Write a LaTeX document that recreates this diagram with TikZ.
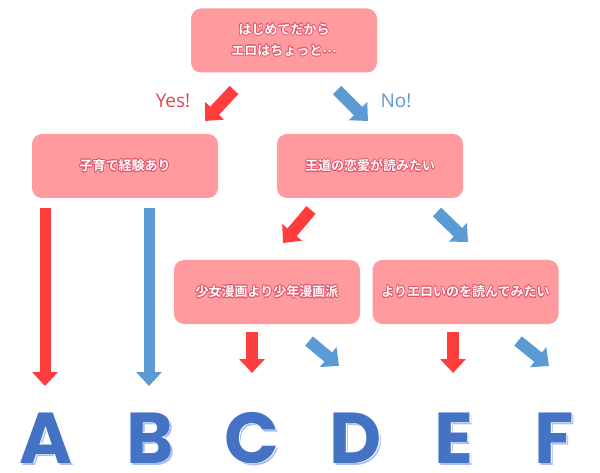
\documentclass[tikz,border=0pt]{standalone}
\usepackage{fontspec}
\usepackage{contour}
\usetikzlibrary{arrows.meta}
\newfontfamily\jpfont{Noto Sans CJK JP}[BoldFont={* Bold}]
\newfontfamily\labfont{Open Sans}
\newfontfamily\letterfont{Poppins}
\definecolor{boxfill}{HTML}{FF9B9E}
\definecolor{olc}{HTML}{E2546A}
\definecolor{redarr}{HTML}{FF3D3D}
\definecolor{bluearr}{HTML}{5B9BD5}
\definecolor{letterblue}{HTML}{4472C4}
\definecolor{lettershadow}{HTML}{A8C1EC}
\definecolor{yescol}{HTML}{E8434F}
\definecolor{nocol}{HTML}{5B9BD5}
\newcommand\jt[1]{\contour{olc}{#1}}
\tikzset{
  qbox/.style={rectangle, rounded corners=10pt, fill=boxfill, draw=none,
    minimum width=186pt, minimum height=64pt, inner sep=0pt,
    font=\jpfont\bfseries\fontsize{13}{21}\selectfont, text=white, align=center},
  redarrow/.style={draw=redarr, line width=12pt, -{Triangle[width=25pt,length=14pt]}},
  bluearrow/.style={draw=bluearr, line width=12pt, -{Triangle[width=25pt,length=14pt]}},
  lettershade/.style={font=\letterfont\bfseries\fontsize{72}{72}\selectfont, text=lettershadow, inner sep=0pt, anchor=base},
  letter/.style={font=\letterfont\bfseries\fontsize{72}{72}\selectfont, text=letterblue, inner sep=0pt, anchor=base},
  yesno/.style={font=\labfont\fontsize{19}{19}\selectfont, inner sep=0pt}
}
\contourlength{0.7pt}
\contournumber{16}
\begin{document}
\begin{tikzpicture}[x=1pt,y=-1pt]
\useasboundingbox (0,0) rectangle (600,473);
% boxes
\node[qbox] (top) at (284,40.5) {\jt{はじめてだから}\\\jt{エロはちょっと\raisebox{2.5pt}{…}}};
\node[qbox] (kosodate) at (125,166) {\jt{子育て経験あり}};
\node[qbox] (oudou) at (370,166) {\jt{王道の恋愛が読みたい}};
\node[qbox] (shoujo) at (267,292) {\jt{少女漫画より少年漫画派}};
\node[qbox] (ero) at (465.5,292) {\jt{よりエロいのを読んでみたい}};
% labels
\node[yesno, text=yescol] (yes) at (173,101) {Yes!};
\node[yesno, text=nocol] (no) at (396,101) {No!};
% arrow end coordinates
\coordinate (y1) at (234,90);  \coordinate (y2) at (205,121);
\coordinate (n1) at (337,90);  \coordinate (n2) at (368,121);
\coordinate (o1) at (311,210); \coordinate (o2) at (283,243);
\coordinate (o3) at (437,212); \coordinate (o4) at (468,242);
\coordinate (a1) at (45,208);  \coordinate (a2) at (45,386);
\coordinate (b1) at (149,208); \coordinate (b2) at (149,386);
\coordinate (c1) at (252,332); \coordinate (c2) at (252,373);
\coordinate (d1) at (309,341); \coordinate (d2) at (339,366);
\coordinate (e1) at (453,332); \coordinate (e2) at (453,373);
\coordinate (f1) at (518,341); \coordinate (f2) at (549,366);
\draw[redarrow] (y1) -- (y2);
\draw[bluearrow] (n1) -- (n2);
\draw[redarrow] (o1) -- (o2);
\draw[bluearrow] (o3) -- (o4);
\draw[redarrow, line width=11pt] (a1) -- (a2);
\draw[bluearrow, line width=11pt] (b1) -- (b2);
\draw[redarrow] (c1) -- (c2);
\draw[bluearrow] (d1) -- (d2);
\draw[redarrow] (e1) -- (e2);
\draw[bluearrow] (f1) -- (f2);
% letters
\foreach \L/\X in {A/46,B/150,C/252,D/356,E/454,F/554}{
  \node[lettershade] at (\X+2,465) {\L};
  \node[letter] (let\L) at (\X,463) {\contour{white}{\L}};
}
\end{tikzpicture}
\end{document}
